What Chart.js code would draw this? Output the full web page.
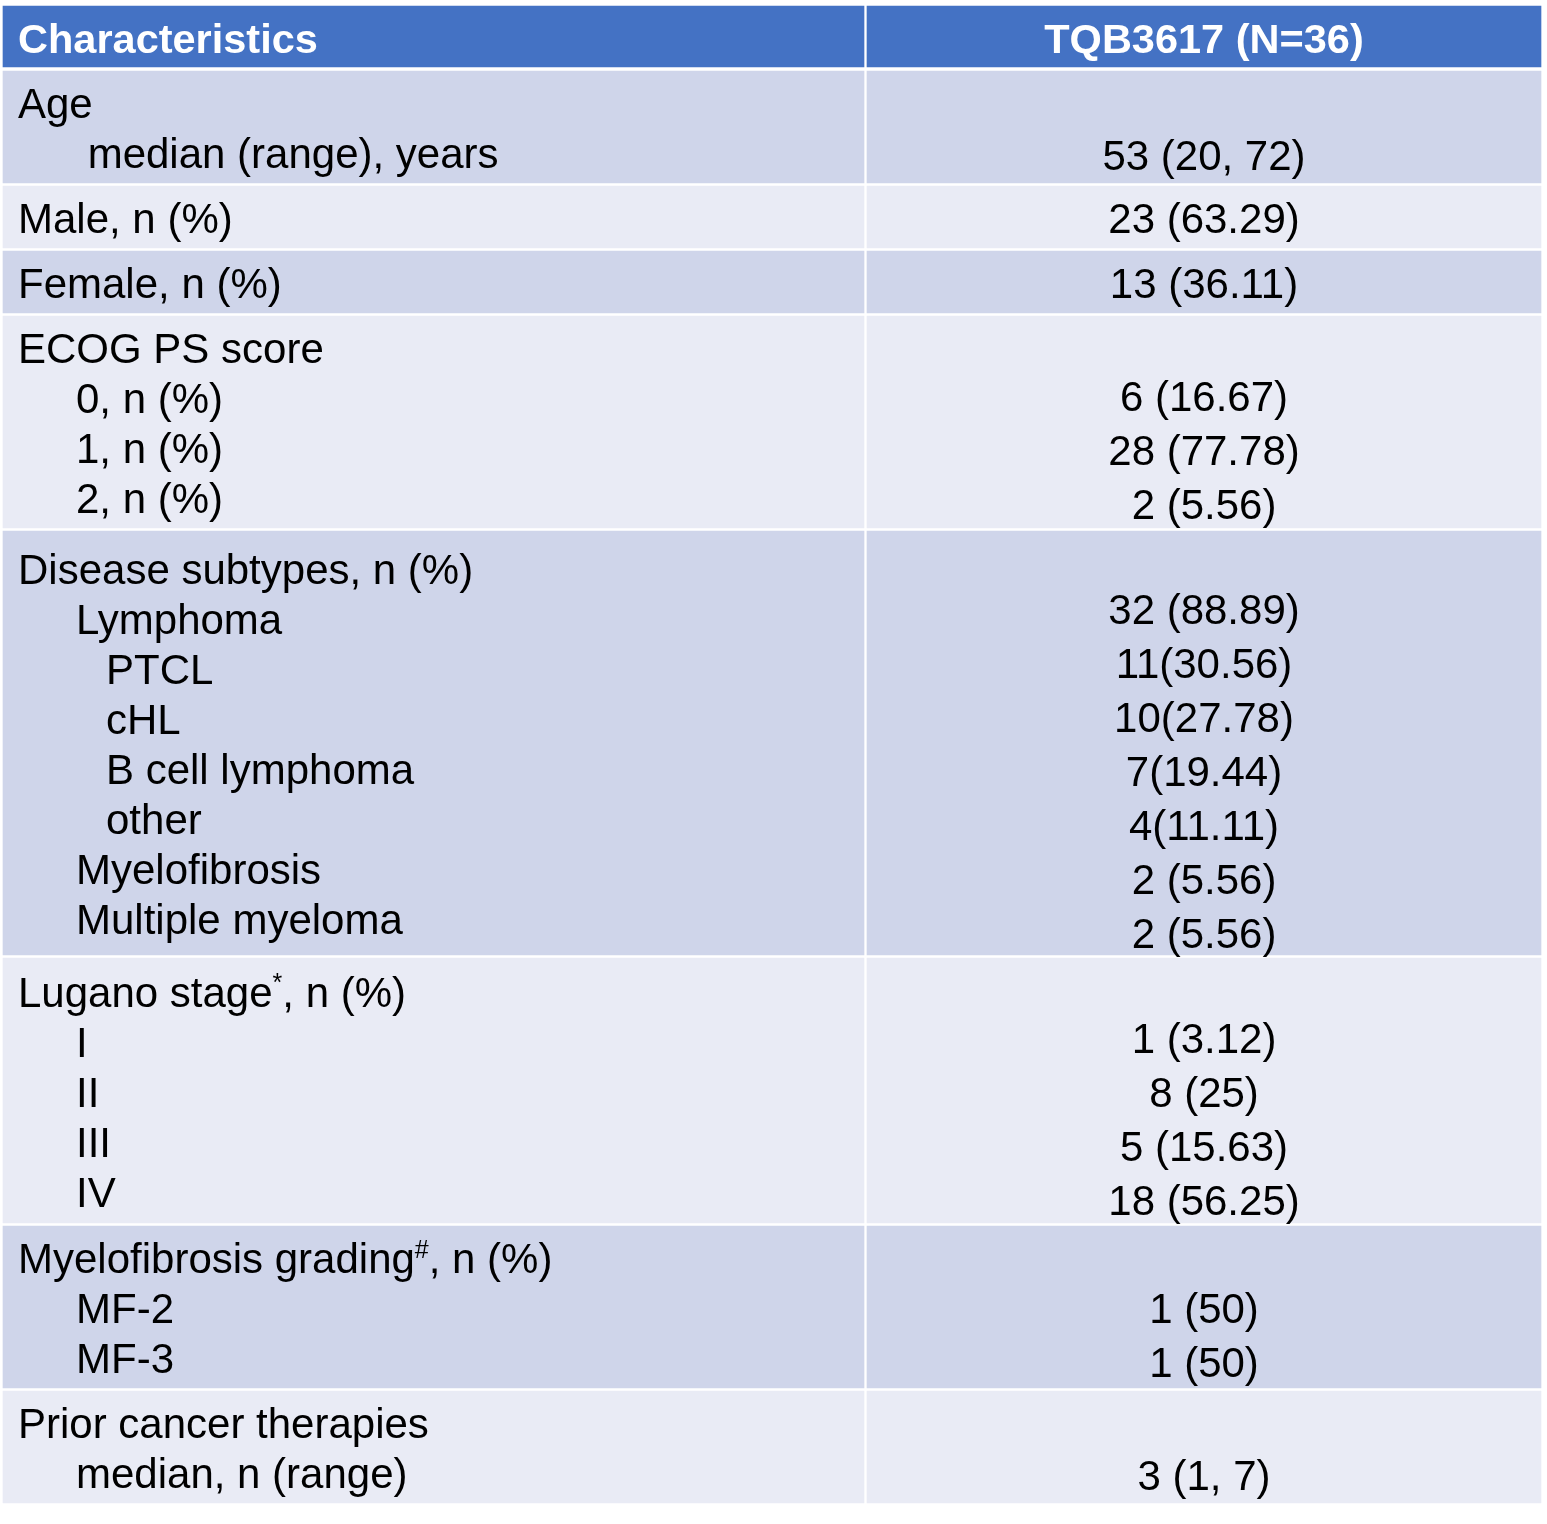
<!DOCTYPE html>
<html>
<head>
<meta charset="utf-8">
<title>Baseline characteristics</title>
<script src="https://cdn.jsdelivr.net/npm/chart.js@4.4.1/dist/chart.umd.min.js"></script>
<style>
  html, body { margin: 0; padding: 0; background: #ffffff; }
  canvas { display: block; }
</style>
</head>
<body>
<canvas id="table" width="1547" height="1524"></canvas>
<script>
const headers = ['Characteristics', 'TQB3617 (N=36)'];

// left column, one list per table row ({..} = superscript)
const rowLabels = [
    ['Age', ' median (range), years'],
    ['Male, n (%)'],
    ['Female, n (%)'],
    ['ECOG PS score', '0, n (%)', '1, n (%)', '2, n (%)'],
    ['Disease subtypes, n (%)', 'Lymphoma', 'PTCL', 'cHL', 'B cell lymphoma', 'other', 'Myelofibrosis', 'Multiple myeloma'],
    ['Lugano stage{*}, n (%)', 'I', 'II', 'III', 'IV'],
    ['Myelofibrosis grading{#}, n (%)', 'MF-2', 'MF-3'],
    ['Prior cancer therapies', 'median, n (range)']
];

// nesting level of each label line
const labelLevels = [
    [0, 1],
    [0],
    [0],
    [0, 1, 1, 1],
    [0, 1, 2, 2, 2, 2, 1, 1],
    [0, 1, 1, 1, 1],
    [0, 1, 1],
    [0, 1]
];

// right column, '' where the label line is a group heading
const rowValues = [
    ['', '53 (20, 72)'],
    ['23 (63.29)'],
    ['13 (36.11)'],
    ['', '6 (16.67)', '28 (77.78)', '2 (5.56)'],
    ['', '32 (88.89)', '11(30.56)', '10(27.78)', '7(19.44)', '4(11.11)', '2 (5.56)', '2 (5.56)'],
    ['', '1 (3.12)', '8 (25)', '5 (15.63)', '18 (56.25)'],
    ['', '1 (50)', '1 (50)'],
    ['', '3 (1, 7)']
];

// layout (px units of the scales)
const W = 1547, H = 1524;
const colLeft = [3, 867];
const colRight = [864, 1541];
const headerTop = 6, headerBottom = 67;
const gap = 3;
const labelStep = 50, valueStep = 54;
const indents = [18, 76, 106];
const headerColor = '#4472C4';
const bandColors = ['#CFD5EA', '#E9EBF5'];
const FONT = '"Liberation Sans", Arial, Helvetica, sans-serif';

// row bands from the line counts
const rowTops = [], rowBottoms = [];
let cursor = headerBottom + 4;
rowLabels.forEach((lines, i) => {
    const h = Math.max(lines.length * labelStep + 12, rowValues[i].length * 53);
    rowTops.push(cursor);
    rowBottoms.push(cursor + h);
    cursor += h + gap;
});

function columnData(c) {
    const cx = (colLeft[c] + colRight[c]) / 2;
    const data = [{ x: cx, y: [headerTop, headerBottom] }];
    rowTops.forEach((t, i) => data.push({ x: cx, y: [t, rowBottoms[i]] }));
    return data;
}

const fills = [headerColor].concat(rowTops.map((t, i) => bandColors[i % 2]));

function drawRich(ctx, text, x, y, size, weight) {
    const parts = text.split(/(\{[^}]*\})/).filter(p => p.length);
    let px = x;
    parts.forEach(p => {
        if (p[0] === '{') {
            const s = Math.round(size * 0.6);
            ctx.font = weight + ' ' + s + 'px ' + FONT;
            const t = p.slice(1, -1);
            ctx.fillText(t, px, y - size * 0.36);
            px += ctx.measureText(t).width;
        } else {
            ctx.font = weight + ' ' + size + 'px ' + FONT;
            ctx.fillText(p, px, y);
            px += ctx.measureText(p).width;
        }
    });
}

const tableText = {
    id: 'tableText',
    afterDatasetsDraw(chart) {
        const { ctx, scales: { x, y } } = chart;
        ctx.save();
        ctx.textBaseline = 'alphabetic';

        // header
        ctx.fillStyle = '#ffffff';
        ctx.font = 'bold 41.5px ' + FONT;
        const hb = y.getPixelForValue((headerTop + headerBottom) / 2) + 16;
        ctx.textAlign = 'left';
        ctx.fillText(headers[0], x.getPixelForValue(indents[0]), hb);
        ctx.textAlign = 'center';
        ctx.fillText(headers[1], x.getPixelForValue((colLeft[1] + colRight[1]) / 2), hb);

        ctx.fillStyle = '#000000';
        rowLabels.forEach((lines, i) => {
            const mid = (rowTops[i] + rowBottoms[i]) / 2 + 16;

            ctx.textAlign = 'left';
            const first = mid - (lines.length - 1) * labelStep / 2;
            lines.forEach((txt, k) => {
                drawRich(ctx, txt, x.getPixelForValue(indents[labelLevels[i][k]]),
                    y.getPixelForValue(first + k * labelStep), 42, 'normal');
            });

            ctx.textAlign = 'center';
            ctx.font = '42px ' + FONT;
            const vals = rowValues[i];
            const vFirst = mid - (vals.length - 1) * valueStep / 2;
            vals.forEach((txt, k) => {
                if (!txt) return;
                ctx.fillText(txt, x.getPixelForValue((colLeft[1] + colRight[1]) / 2),
                    y.getPixelForValue(vFirst + k * valueStep));
            });
        });
        ctx.restore();
    }
};

new Chart(document.getElementById('table').getContext('2d'), {
    type: 'bar',
    data: {
        datasets: [
            {
                label: headers[0],
                data: columnData(0),
                backgroundColor: fills,
                barThickness: colRight[0] - colLeft[0],
                grouped: false,
                borderWidth: 0
            },
            {
                label: headers[1],
                data: columnData(1),
                backgroundColor: fills,
                barThickness: colRight[1] - colLeft[1],
                grouped: false,
                borderWidth: 0
            }
        ]
    },
    options: {
        responsive: false,
        animation: false,
        layout: { padding: 0 },
        plugins: {
            legend: { display: false },
            tooltip: { enabled: false }
        },
        scales: {
            x: { type: 'linear', min: 0, max: W, offset: false, display: false },
            y: { type: 'linear', min: 0, max: H, reverse: true, display: false }
        }
    },
    plugins: [tableText]
});
</script>
</body>
</html>
